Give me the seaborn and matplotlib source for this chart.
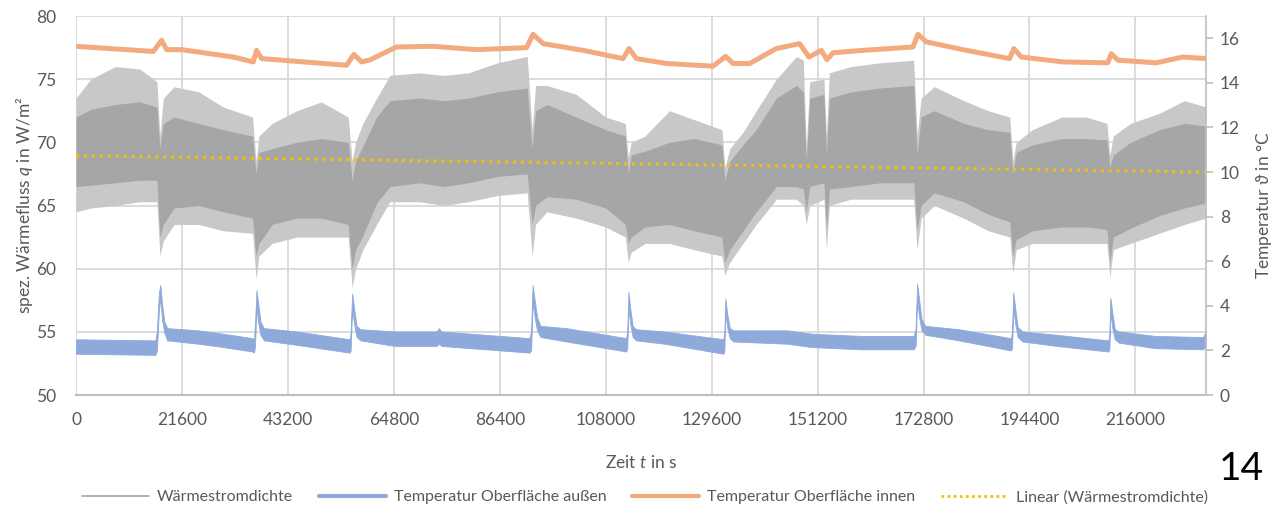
import matplotlib
matplotlib.use("Agg")
import matplotlib.pyplot as plt
from matplotlib.lines import Line2D
import numpy as np
import pandas as pd
import seaborn as sns

# Wärmestromdichte (W/m²): time, outer spike tips and solid core of the noisy band
gray_t = [0, 3000, 8000, 13000, 16500, 17100, 17800,
          20000, 25000, 30000, 36000, 36700, 37300,
          40000, 45000, 50000, 55500, 56300, 57000,
          58500, 61300, 64000, 70000, 75000, 80000, 86000, 92000, 93000, 93700,
          96000, 102000, 108000, 112000, 112600, 113200,
          116000, 121000, 126000, 131700, 132300, 133300,
          136000, 138700, 142800, 146900, 148300, 148900, 149600, 152500, 153000, 153600,
          158000, 164000, 170800, 171500, 172300,
          175000, 181000, 186000, 190400, 191000, 191700,
          195000, 201000, 206000, 210200, 210800, 211500,
          215000, 220900, 226000, 230400]
gray_tip_lo = [64.5, 64.8, 65.0, 65.3, 65.3, 61.0, 62.2,
               63.5, 63.5, 63.0, 62.8, 59.2, 61.0,
               62.0, 62.5, 62.5, 62.5, 58.5, 60.0,
               61.5, 63.5, 65.3, 65.3, 65.0, 65.3, 65.8, 66.0, 61.0, 63.5,
               64.5, 64.0, 63.3, 62.5, 60.5, 61.3,
               62.0, 62.0, 61.5, 61.0, 59.5, 60.5,
               62.0, 63.5, 65.5, 65.5, 65.0, 63.5, 65.0, 65.5, 61.5, 65.0,
               65.5, 65.5, 65.5, 61.5, 64.0,
               65.0, 64.0, 63.0, 62.5, 59.6, 61.5,
               62.0, 62.0, 62.0, 62.0, 59.3, 61.5,
               62.0, 62.8, 63.5, 64.0]
gray_core_lo = [66.5, 66.6, 66.8, 67.0, 67.0, 62.5, 63.5,
                64.8, 65.0, 64.5, 64.0, 61.0, 62.0,
                63.5, 64.0, 64.0, 63.5, 60.0, 61.5,
                62.6, 65.2, 66.5, 66.8, 66.5, 66.8, 67.3, 67.5, 63.5, 65.0,
                65.7, 65.5, 64.8, 63.5, 62.0, 62.5,
                63.3, 63.5, 63.0, 62.5, 60.5, 61.5,
                63.0, 64.5, 66.5, 66.5, 66.3, 64.5, 66.5, 66.8, 63.0, 66.3,
                66.5, 66.8, 66.8, 63.0, 65.0,
                66.0, 65.3, 64.3, 63.7, 61.0, 62.3,
                63.0, 63.3, 63.3, 63.1, 60.5, 62.5,
                63.2, 64.2, 64.8, 65.2]
gray_core_hi = [72.0, 72.6, 73.0, 73.2, 72.8, 69.5, 71.5,
                72.0, 71.5, 71.0, 70.5, 67.5, 69.2,
                69.5, 70.0, 70.3, 70.0, 67.0, 68.5,
                69.7, 72.0, 73.3, 73.5, 73.3, 73.5, 74.0, 74.3, 69.5, 72.5,
                73.0, 72.0, 71.0, 70.5, 67.5, 69.0,
                69.3, 70.0, 70.3, 69.8, 67.0, 68.5,
                69.8, 71.0, 73.5, 74.5, 74.0, 68.5, 73.5, 73.8, 69.0, 73.5,
                74.0, 74.3, 74.5, 69.0, 72.0,
                72.5, 71.5, 71.0, 70.8, 67.5, 69.2,
                69.8, 70.3, 70.3, 70.2, 68.0, 69.0,
                70.0, 71.0, 71.5, 71.3]
gray_tip_hi = [73.5, 75.0, 76.0, 75.8, 74.8, 70.5, 73.5,
               74.4, 74.0, 72.8, 72.0, 68.5, 70.5,
               71.5, 72.5, 73.2, 72.0, 68.5, 70.0,
               71.5, 73.5, 75.3, 75.5, 75.3, 75.5, 76.3, 76.8, 71.0, 74.5,
               74.5, 73.8, 72.0, 71.5, 68.8, 70.0,
               70.5, 72.5, 71.8, 71.0, 68.0, 69.5,
               70.8, 72.5, 75.0, 76.8, 76.5, 69.5, 74.8, 75.0, 70.5, 75.5,
               76.0, 76.3, 76.5, 70.5, 73.5,
               74.4, 73.3, 72.5, 72.0, 68.5, 70.0,
               71.0, 72.0, 72.0, 71.5, 69.0, 70.5,
               71.5, 72.3, 73.3, 72.8]

# Linear (Wärmestromdichte)
trend_t = [0, 230400]
trend_q = [68.94, 67.65]

# Temperatur Oberfläche außen (°C): lower / upper edge of the band
blue_t = [0, 16200, 16500, 16900, 17200, 17600, 18000, 18600, 25000, 30000, 36000,
          36300, 36500, 36800, 37100, 37600, 38300, 45000, 55800,
          56000, 56300, 56700, 57200, 58000, 65000, 73500, 74000, 74500, 92500,
          92800, 93100, 93500, 94000, 94700, 100000, 112200,
          112400, 112650, 113000, 113500, 114200, 120000, 132000,
          132200, 132400, 132800, 133300, 134000, 145000, 150000, 160000, 170800,
          171200, 171500, 171900, 172400, 173200, 180000, 190600,
          190850, 191100, 191500, 192000, 193000, 200000, 210500,
          210700, 210900, 211300, 211800, 212600, 220000, 229800, 230400]
blue_lo = [1.85, 1.80, 2.00, 3.80, 4.30, 3.30, 2.80, 2.45, 2.30, 2.15, 1.95,
           1.90, 2.20, 4.00, 3.30, 2.70, 2.45, 2.25, 1.90,
           2.00, 3.90, 3.20, 2.60, 2.45, 2.20, 2.20, 2.30, 2.20, 1.90,
           2.00, 4.20, 3.50, 2.90, 2.60, 2.40, 1.95,
           2.10, 3.90, 3.20, 2.60, 2.45, 2.30, 1.85,
           2.00, 3.70, 3.00, 2.55, 2.40, 2.30, 2.15, 2.05, 2.05,
           2.20, 4.30, 3.50, 2.90, 2.70, 2.45, 2.00,
           2.10, 3.90, 3.20, 2.60, 2.40, 2.20, 1.95,
           2.05, 3.70, 3.00, 2.50, 2.35, 2.10, 2.05, 2.20]
blue_hi = [2.50, 2.45, 2.90, 4.60, 4.93, 4.00, 3.30, 3.00, 2.90, 2.75, 2.55,
           2.50, 3.20, 4.70, 4.20, 3.30, 3.00, 2.85, 2.50,
           2.80, 4.55, 3.90, 3.10, 2.95, 2.85, 2.85, 3.00, 2.85, 2.55,
           2.90, 4.93, 4.30, 3.50, 3.10, 3.00, 2.55,
           2.90, 4.63, 3.90, 3.10, 2.95, 2.85, 2.50,
           2.80, 4.33, 3.60, 3.00, 2.90, 2.90, 2.75, 2.65, 2.65,
           3.00, 5.00, 4.30, 3.40, 3.10, 2.95, 2.55,
           2.80, 4.60, 3.90, 3.05, 2.85, 2.70, 2.45,
           2.70, 4.36, 3.70, 2.95, 2.85, 2.65, 2.60, 2.90]

# Temperatur Oberfläche innen (°C)
orange_t = [0, 15760, 17460, 18480, 21540, 32060, 36140, 36820, 37840, 43600,
            55160, 56660, 58220, 59920, 65350, 72820, 81660, 91850, 93200, 95240,
            103390, 111540, 112770, 114270, 120380, 129890, 132470, 133960, 137360,
            142800, 147550, 149450, 151970, 153120, 154340, 160450, 170650, 171670,
            173370, 180830, 190350, 191230, 192730, 201210, 210380, 211070, 212420,
            220240, 225670, 230400]
orange_c = [15.64, 15.41, 15.91, 15.49, 15.49, 15.16, 14.94, 15.46, 15.09, 14.99,
            14.79, 15.28, 14.94, 15.03, 15.61, 15.64, 15.49, 15.58, 16.18, 15.76,
            15.46, 15.09, 15.54, 15.09, 14.87, 14.75, 15.19, 14.87, 14.87,
            15.54, 15.76, 15.16, 15.46, 15.04, 15.35, 15.46, 15.61, 16.18,
            15.84, 15.49, 15.09, 15.54, 15.16, 14.94, 14.90, 15.31, 15.02,
            14.90, 15.16, 15.09]

x_ticks = [0, 21600, 43200, 64800, 86400, 108000, 129600, 151200, 172800, 194400, 216000]

c_gray = "#a6a6a6"
c_tip = "#c8c8c8"
c_blue = "#8eaadb"
c_orange = "#f3aa7e"
c_yellow = "#f2c200"
c_text = "#595959"
c_grid = "#d9d9d9"

sns.set_theme(style="white")
plt.rcParams["font.family"] = ["Lato", "DejaVu Sans"]
plt.rcParams["mathtext.fontset"] = "custom"
plt.rcParams["mathtext.it"] = "Lato:italic"
plt.rcParams["mathtext.rm"] = "Lato"
plt.rcParams["mathtext.fallback"] = "stixsans"

fig = plt.figure(figsize=(12.72, 5.11), dpi=100)
ax = fig.add_axes([76 / 1272, 1 - 395 / 511, (1206 - 76) / 1272, (395 - 16) / 511])
ax2 = ax.twinx()

gray = pd.DataFrame({"t": gray_t, "tip_lo": gray_tip_lo, "core_lo": gray_core_lo,
                     "core_hi": gray_core_hi, "tip_hi": gray_tip_hi})
ax.fill_between(gray["t"], gray["tip_lo"], gray["tip_hi"], color=c_tip, lw=0, zorder=2)
ax.fill_between(gray["t"], gray["core_lo"], gray["core_hi"], color=c_gray, lw=0, zorder=3)
sns.lineplot(x=trend_t, y=trend_q, ax=ax, color=c_yellow, lw=2.2, zorder=4,
             linestyle=(0, (1, 1.6)))

ax2.fill_between(blue_t, blue_lo, blue_hi, color=c_blue, lw=0.6, edgecolor=c_blue)
sns.lineplot(x=orange_t, y=orange_c, ax=ax2, color=c_orange, lw=3.6, sort=False)

ax.set_xlim(0, 230400)
ax.set_ylim(50, 80)
ax.set_yticks(range(50, 81, 5))
ax.set_xticks(x_ticks)
ax2.set_ylim(0, 17)
ax2.set_yticks(range(0, 17, 2))

ax.grid(True, color=c_grid, lw=1.3)
ax.set_axisbelow(True)
for a in (ax, ax2):
    for s in a.spines.values():
        s.set_visible(False)
ax2.spines["right"].set_visible(True)
ax2.spines["right"].set_color("#bfbfbf")
ax2.spines["right"].set_linewidth(1.2)
ax.spines["bottom"].set_visible(True)
ax.spines["bottom"].set_color("#bfbfbf")
ax.spines["bottom"].set_linewidth(1.5)

ax.tick_params(axis="y", length=0, pad=14, labelsize=12.5, labelcolor=c_text)
ax.tick_params(axis="x", length=0, pad=12, labelsize=12.5, labelcolor=c_text)
ax2.tick_params(axis="y", length=5, width=1.2, color="#bfbfbf", direction="out",
                pad=5, labelsize=12.5, labelcolor=c_text)

ax.set_ylabel("spez. Wärmefluss $q$ in W/m²", fontsize=12.5, color=c_text, labelpad=1)
ax2.set_ylabel("Temperatur $\\vartheta$ in °C", fontsize=12.5, color=c_text, labelpad=10)
ax.set_xlabel("Zeit $t$ in s", fontsize=12.5, color=c_text, labelpad=19)

handles = [Line2D([], [], color=c_gray, lw=1.2),
           Line2D([], [], color=c_blue, lw=3),
           Line2D([], [], color=c_orange, lw=3),
           Line2D([], [], color=c_yellow, lw=2, linestyle=(0, (1, 1.2)))]
labels = ["Wärmestromdichte", "Temperatur Oberfläche außen",
          "Temperatur Oberfläche innen", "Linear (Wärmestromdichte)"]
fig.legend(handles, labels, loc="center", bbox_to_anchor=(0.507, 0.027), ncol=4,
           frameon=False, fontsize=11.5, handlelength=4.2, columnspacing=1.6,
           handletextpad=0.5, labelcolor=c_text)

fig.text(1241 / 1272, 1 - 469 / 511, "14", fontsize=28, color="black",
         ha="center", va="center")

fig.savefig("out.png", dpi=100)
